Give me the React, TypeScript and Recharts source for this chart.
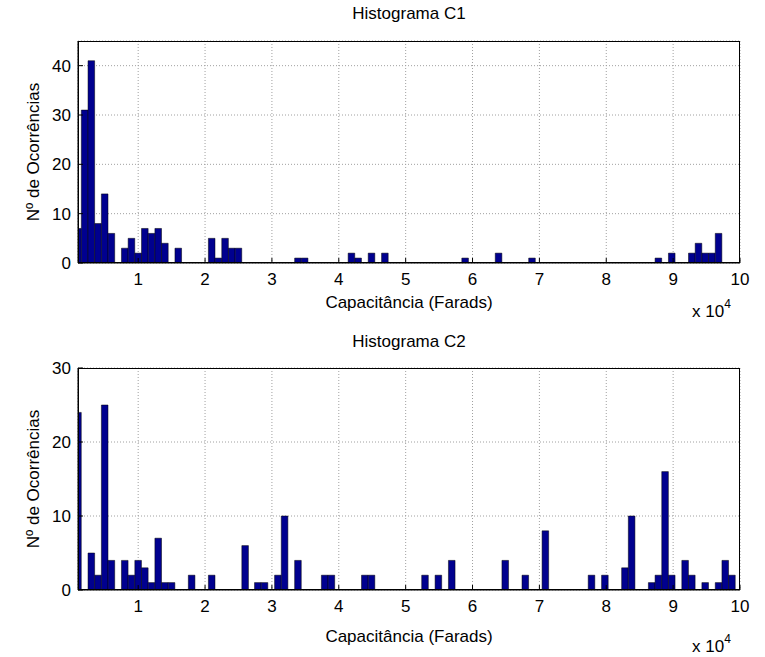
import React from 'react';
import { BarChart, Bar, XAxis, YAxis, CartesianGrid } from 'recharts';

// x in units of 10^4 Farads (bin centres), counts per bin
const xTicks = [1, 2, 3, 4, 5, 6, 7, 8, 9, 10];

const c1Centers = [0.10, 0.20, 0.30, 0.40, 0.50, 0.60, 0.80, 0.90, 1.00, 1.10, 1.20, 1.30, 1.40, 1.60, 2.10, 2.20, 2.30, 2.40, 2.50, 3.39, 3.49, 4.19, 4.29, 4.49, 4.69, 5.89, 6.39, 6.89, 8.78, 8.98, 9.28, 9.38, 9.48, 9.58, 9.68];
const c1Counts = [7, 31, 41, 8, 14, 6, 3, 5, 2, 7, 6, 7, 4, 3, 5, 1, 5, 3, 3, 1, 1, 2, 1, 2, 2, 1, 2, 1, 1, 2, 2, 4, 2, 2, 6];
const c1YTicks = [0, 10, 20, 30, 40];

const c2Centers = [0.10, 0.30, 0.40, 0.50, 0.60, 0.80, 0.90, 1.00, 1.10, 1.20, 1.30, 1.40, 1.50, 1.80, 2.10, 2.60, 2.79, 2.89, 3.09, 3.19, 3.39, 3.79, 3.89, 4.39, 4.49, 5.29, 5.49, 5.69, 6.49, 6.79, 7.09, 7.78, 7.98, 8.28, 8.38, 8.68, 8.78, 8.88, 8.98, 9.18, 9.28, 9.48, 9.68, 9.78, 9.88];
const c2Counts = [24, 5, 2, 25, 4, 4, 2, 4, 3, 1, 7, 1, 1, 2, 2, 6, 1, 1, 2, 10, 4, 2, 2, 2, 2, 2, 2, 4, 4, 2, 8, 2, 2, 3, 10, 1, 2, 16, 2, 4, 2, 1, 1, 4, 2];
const c2YTicks = [0, 10, 20, 30];

const FONT = '"Liberation Sans", Arial, Helvetica, sans-serif';
const FS = 17;

const c1Data = c1Centers.map((x, i) => ({ x, n: c1Counts[i] }));
const c2Data = c2Centers.map((x, i) => ({ x, n: c2Counts[i] }));

const tickStyle = { fill: '#000', fontSize: FS, fontFamily: FONT };

function Hist({ data, yMax, yTicks, top }: { data: { x: number; n: number }[]; yMax: number; yTicks: number[]; top: number }) {
  return (
    <div style={{ position: 'absolute', left: 0, top, width: 765, height: 330 }}>
      <BarChart
        width={765}
        height={330}
        data={data}
        margin={{ top: 41, right: 25, left: 18, bottom: 37 }}
        barGap={0}
        barCategoryGap={0}
      >
        <CartesianGrid stroke="#a0a0a0" strokeDasharray="1 2" strokeWidth={1} />
        <XAxis
          dataKey="x"
          type="number"
          domain={[0.1, 10]}
          allowDataOverflow
          ticks={xTicks}
          interval={0}
          height={30}
          tickSize={-5}
          tickMargin={15}
          axisLine={{ stroke: '#000', strokeWidth: 1 }}
          tickLine={{ stroke: '#000', strokeWidth: 1 }}
          tick={tickStyle}
        />
        <XAxis
          xAxisId="top"
          orientation="top"
          dataKey="x"
          type="number"
          domain={[0.1, 10]}
          allowDataOverflow
          ticks={xTicks}
          interval={0}
          height={0}
          tickSize={-5}
          axisLine={{ stroke: '#000', strokeWidth: 1 }}
          tickLine={{ stroke: '#000', strokeWidth: 1 }}
          tick={false}
        />
        <YAxis
          type="number"
          domain={[0, yMax]}
          allowDataOverflow
          ticks={yTicks}
          interval={0}
          width={60}
          tickSize={-5}
          tickMargin={12}
          axisLine={{ stroke: '#000', strokeWidth: 1 }}
          tickLine={{ stroke: '#000', strokeWidth: 1 }}
          tick={tickStyle}
        />
        <YAxis
          yAxisId="right"
          orientation="right"
          type="number"
          domain={[0, yMax]}
          allowDataOverflow
          ticks={yTicks}
          interval={0}
          width={0}
          tickSize={-5}
          axisLine={{ stroke: '#000', strokeWidth: 1 }}
          tickLine={{ stroke: '#000', strokeWidth: 1 }}
          tick={false}
        />
        <Bar dataKey="n" fill="#00008F" stroke="#000" strokeWidth={0.5} barSize={6.6} isAnimationActive={false} />
      </BarChart>
      <div
        style={{
          position: 'absolute',
          left: 78,
          top: 41,
          width: 662,
          height: 222,
          border: '1px solid #000',
          boxSizing: 'border-box',
          pointerEvents: 'none',
        }}
      />
    </div>
  );
}

const textBase: React.CSSProperties = {
  position: 'absolute',
  fontFamily: FONT,
  fontSize: FS,
  color: '#000',
  whiteSpace: 'nowrap',
  lineHeight: 1,
};

function Centered({ x, y, children, rotate }: { x: number; y: number; children: React.ReactNode; rotate?: boolean }) {
  return (
    <div
      style={{
        ...textBase,
        left: x,
        top: y,
        transform: `translate(-50%, -50%)${rotate ? ' rotate(-90deg)' : ''}`,
      }}
    >
      {children}
    </div>
  );
}

function Exponent({ y }: { y: number }) {
  return (
    <div style={{ ...textBase, left: 692, top: y - 8 }}>
      x 10<span style={{ position: 'relative', top: -9, fontSize: 12 }}>4</span>
    </div>
  );
}

export default function App() {
  return (
    <div style={{ position: 'absolute', left: 0, top: 0, width: 765, height: 657, background: '#fff', overflow: 'hidden' }}>
      <Hist data={c1Data} yMax={45} yTicks={c1YTicks} top={0} />
      <Hist data={c2Data} yMax={30} yTicks={c2YTicks} top={327} />
      <Centered x={409} y={13}>Histograma C1</Centered>
      <Centered x={409} y={341}>Histograma C2</Centered>
      <Centered x={409} y={302}>Capacitância (Farads)</Centered>
      <Centered x={409} y={636}>Capacitância (Farads)</Centered>
      <Exponent y={311} />
      <Exponent y={646} />
      <Centered x={33} y={152} rotate>Nº de Ocorrências</Centered>
      <Centered x={33} y={479} rotate>Nº de Ocorrências</Centered>
    </div>
  );
}
